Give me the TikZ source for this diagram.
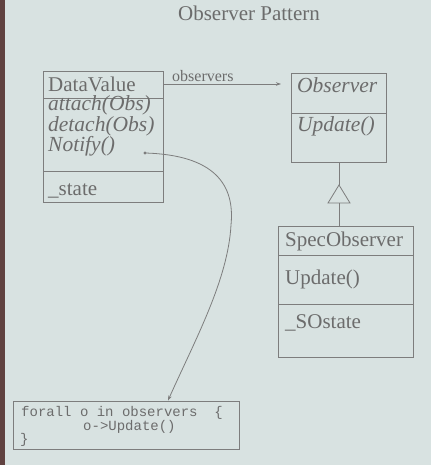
\documentclass[tikz,border=0pt]{standalone}
\usepackage{fontspec}
\setmainfont{Liberation Serif}
\setmonofont{Liberation Mono}
\usetikzlibrary{arrows.meta}
\definecolor{bgc}{RGB}{216,226,225}
\definecolor{bandc}{RGB}{96,66,64}
\definecolor{inkc}{RGB}{108,108,108}
\definecolor{linec}{RGB}{125,125,125}
\begin{document}
\begin{tikzpicture}[x=1pt,y=-1pt,
  classbox/.style={draw=linec,line width=0.9pt,rectangle,inner sep=0pt},
  lbl/.style={text=inkc,inner sep=0pt,anchor=base west,text height=14pt,text depth=3.5pt,font=\fontsize{21}{24}\selectfont},
  ilbl/.style={lbl,font=\fontsize{21.5}{24}\selectfont\itshape},
  codetxt/.style={text=inkc,inner sep=0pt,anchor=base west,text height=9pt,text depth=3pt,font=\fontsize{14}{16}\ttfamily},
  conn/.style={draw=linec,line width=0.8pt},
  tip/.style={-{Stealth[length=5pt,width=3.5pt]}}
]
\useasboundingbox (0,0) rectangle (431,465);
\fill[bgc] (0,0) rectangle (431,465);
\fill[bandc] (0,0) rectangle (5,465);

% title
\node[lbl,anchor=base] (title) at (249,21) {Observer Pattern};

% DataValue class
\node[classbox,minimum width=120pt,minimum height=131pt] (dv) at (103,136.5) {};
\draw[conn] (43,98) -- (163,98);
\draw[conn] (43,171) -- (163,171);
\node[lbl] (dvname) at (48,92) {DataValue};
\node[ilbl] (dvatt) at (48,111) {attach(Obs)};
\node[ilbl] (dvdet) at (48,132) {detach(Obs)};
\node[ilbl] (dvnot) at (48,151) {Notify()};
\node[lbl] (dvst) at (48,195) {\_state};
\coordinate (dot) at (145,153);
\fill[linec] (dot) circle (1.6);

% Observer class
\node[classbox,minimum width=95pt,minimum height=89pt] (obs) at (338.5,117.5) {};
\draw[conn] (291,113) -- (386,113);
\node[ilbl] (obsname) at (297,93) {Observer};
\node[ilbl] (obsupd) at (297,132) {Update()};

% SpecObserver class
\node[classbox,minimum width=135pt,minimum height=131pt] (spec) at (345.5,291.5) {};
\draw[conn] (278,255) -- (413,255);
\draw[conn] (278,304) -- (413,304);
\node[lbl] (specname) at (285,246) {SpecObserver};
\node[lbl] (specupd) at (285,284) {Update()};
\node[lbl] (specst) at (285,328) {\_SOstate};

% code note
\node[classbox,minimum width=226pt,minimum height=48pt] (code) at (126,425) {};
\node[codetxt] (c1) at (21,416) {forall o in observers\ \ \{};
\node[codetxt] (c2) at (83,430) {o->Update()};
\node[codetxt] (c3) at (20,443) {\}};

% association
\coordinate (dvr) at (163,84);
\coordinate (obsl) at (281,84);
\draw[conn,tip] (dvr) -- (obsl);
\node[text=inkc,inner sep=0pt,anchor=base west,font=\fontsize{16}{18}\selectfont] (obslbl) at (172,82) {observers};

% generalization
\coordinate (apex) at (339,185);
\coordinate (bl) at (328,203);
\coordinate (br) at (350,203);
\coordinate (bm) at (339,203);
\draw[conn] (obs.south -| apex) -- (apex);
\draw[conn,fill=bgc] (apex) -- (br) -- (bl) -- cycle;
\draw[conn] (bm) -- (spec.north -| bm);

% notify curve
\coordinate (codetop) at (168,401);
\draw[conn,tip] (dot) .. controls (215,155) and (235,185) .. (231,225)
  .. controls (228,280) and (195,340) .. (code.north -| codetop);
\end{tikzpicture}
\end{document}
